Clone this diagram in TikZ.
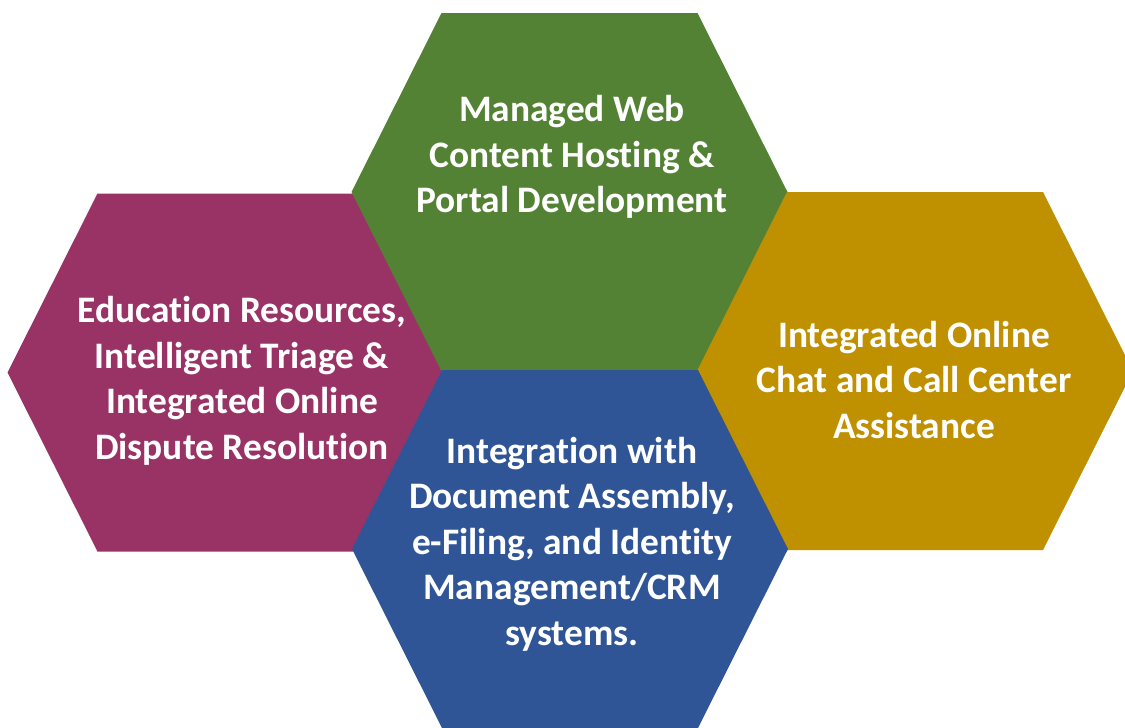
\documentclass[tikz,border=0pt]{standalone}
\usepackage{fontspec}
\setmainfont[Ligatures={NoCommon}]{Carlito}
\definecolor{hexgreen}{HTML}{548235}
\definecolor{hexpurple}{HTML}{993366}
\definecolor{hexgold}{HTML}{BF9000}
\definecolor{hexblue}{HTML}{2F5597}
\tikzset{
  hexlabel/.style={text=white, font=\bfseries\fontsize{37.4}{45.5}\selectfont, align=center, inner sep=0pt},
}
\newcommand{\hexat}[3]{% fill color, cx, cy
  \fill[#1] ({#2-128},{#3-179}) -- ({#2+128},{#3-179}) -- ({#2+218},{#3}) -- ({#2+128},{#3+179}) -- ({#2-128},{#3+179}) -- ({#2-218},{#3}) -- cycle;}
\begin{document}
\begin{tikzpicture}[x=1pt,y=-1pt]
\useasboundingbox (0,0) rectangle (1125,728);
\begin{scope}
\clip (0,0) rectangle (1125,728);
\hexat{hexpurple}{225.5}{372.5}
\hexat{hexgreen}{569.5}{192}
\hexat{hexgold}{915}{371}
\hexat{hexblue}{570}{549}
\end{scope}
\node[hexlabel] (green) at (572,157) {Managed Web\\Content Hosting \&\\Portal Development};
\node[hexlabel] (purple) at (242,381) {Education Resources,\\Intelligent Triage \&\\Integrated Online\\Dispute Resolution};
\node[hexlabel] (gold) at (914,380) {Integrated Online\\Chat and Call Center\\Assistance};
\node[hexlabel] (blue) at (572,544) {Integration with\\Document Assembly,\\e-Filing, and Identity\\Management/CRM\\systems.};
\end{tikzpicture}
\end{document}
